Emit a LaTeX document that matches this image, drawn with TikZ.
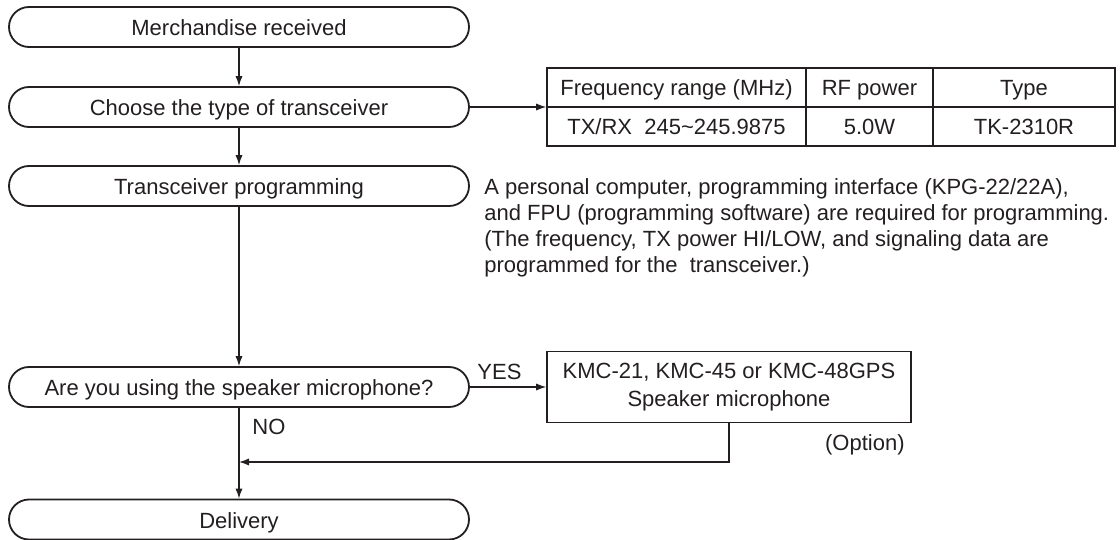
\documentclass[tikz,border=0pt]{standalone}
\usepackage{fontspec}
\setmainfont{Liberation Sans}
\usepackage{tikz}
\usetikzlibrary{calc}
\usetikzlibrary{arrows.meta}
\usetikzlibrary{positioning}

\definecolor{ink}{RGB}{35,31,32}
\tikzset{
  stepbox/.style={draw=ink, line width=0.9pt, rectangle, rounded corners=10pt,
    minimum width=230pt, minimum height=20pt, inner sep=0pt, text=ink,
    font=\fontsize{11}{13}\selectfont, text height=8.5pt, text depth=0pt},
  framebox/.style={draw=ink, line width=0.8pt, rectangle, inner sep=0pt},
  note/.style={inner sep=0pt, text=ink, font=\fontsize{11}{13}\selectfont,
    text height=8.5pt, text depth=0pt},
  para/.style={inner sep=0pt, text=ink, font=\fontsize{11}{13}\selectfont,
    align=left, anchor=north west},
  flow/.style={draw=ink, line width=0.65pt, -{Latex[length=5pt,width=3.6pt]}},
}

\begin{document}
\begin{tikzpicture}[x=0.5pt, y=0.5pt]
    \useasboundingbox (0,0) rectangle (1120,-540);

    \node[stepbox] (received) at (239,-27) {Merchandise received};
    \node[stepbox] (choose) at (239,-107) {Choose the type of transceiver};
    \node[stepbox] (program) at (239,-186) {Transceiver programming};
    \node[stepbox] (usemic) at (239,-387) {Are you using the speaker microphone?};
    \node[stepbox] (delivery) at (239,-519.5) {Delivery};

    % table of types
    \node[framebox, minimum width=284pt, minimum height=39pt] (table) at (831,-107) {};
    \draw[ink, line width=0.7pt] (table.west) -- (table.east);
    \foreach \x in {806,933}
      {
        \draw[ink, line width=0.7pt] (\x,-68) -- (\x,-146);
      }
    \node[note] (freqhead) at (676.5,-87.5) {Frequency range (MHz)};
    \node[note] (powerhead) at (869.5,-87.5) {RF power};
    \node[note] (typehead) at (1024,-87.5) {Type};
    \node[note] (freq) at (676.5,-126.5) {TX/RX~~245\textasciitilde245.9875};
    \node[note] (power) at (869.5,-126.5) {5.0W};
    \node[note] (type) at (1024,-126.5) {TK-2310R};

    \node[para] (needs) at (484,-178)
      {A personal computer, programming interface (KPG-22/22A),\\
       and FPU (programming software) are required for programming.\\
       (The frequency, TX power HI/LOW, and signaling data are\\
       programmed for the~~transceiver.)};

    % option
    \node[framebox, minimum width=182pt, minimum height=35.5pt, align=center,
      text=ink, font=\fontsize{11}{14}\selectfont] (mic) at (729,-387)
      {KMC-21, KMC-45 or KMC-48GPS\\Speaker microphone};
    \node[note, anchor=east] (option) at (905,-442) {(Option)};
    \node[note, anchor=west] (yes) at (477,-371) {YES};
    \node[note, anchor=west] (no) at (252,-426) {NO};
    \coordinate (join) at (239,-462);

    \draw[flow] (received) -- (choose);
    \draw[flow] (choose) -- (program);
    \draw[flow] (program) -- (usemic);
    \draw[flow] (usemic) -- (delivery);
    \draw[flow] (choose) -- (table);
    \draw[flow] (usemic) -- (mic);
    \draw[flow] (mic.south) |- (join);
\end{tikzpicture}
\end{document}
